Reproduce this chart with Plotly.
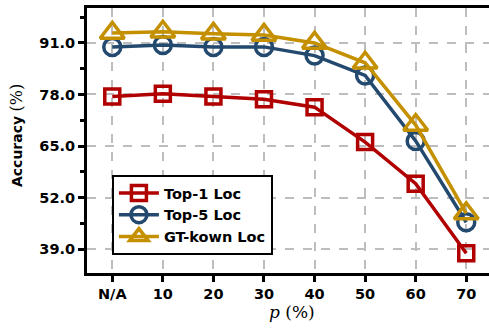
import plotly.graph_objects as go

categories = ["N/A", "10", "20", "30", "40", "50", "60", "70"]
top1 = [77.5, 78.2, 77.5, 76.8, 74.8, 66.0, 55.5, 38.0]
top5 = [90.0, 90.5, 90.0, 90.0, 87.8, 82.8, 66.3, 45.8]
gtk = [93.5, 93.8, 93.3, 93.0, 91.0, 86.0, 70.3, 48.0]
ytick_vals = [39, 52, 65, 78, 91]
ytick_text = ["39.0", "52.0", "65.0", "78.0", "91.0"]

series = [
    ("Top-1 Loc", top1, "#b00000", "square-open", 15),
    ("Top-5 Loc", top5, "#234a6e", "circle-open", 17),
    ("GT-kown Loc", gtk, "#c49000", "triangle-up-open", 21),
]

SANS = "DejaVu Sans"
SERIF = "DejaVu Serif"

fig = go.Figure()
for name, vals, color, sym, size in series:
    fig.add_trace(go.Scatter(
        x=list(range(len(categories))), y=vals, name=name, mode="lines+markers",
        line=dict(color=color, width=3.5),
        marker=dict(symbol=sym, size=size, color=color, line=dict(width=3.5, color=color)),
    ))

fig.update_layout(
    width=489, height=328,
    margin=dict(l=87, r=0, t=8, b=55),
    plot_bgcolor="white", paper_bgcolor="white",
    font=dict(family=SANS, color="black"),
    showlegend=True,
    legend=dict(
        x=0.062, y=0.37, xanchor="left", yanchor="top",
        bgcolor="white", bordercolor="black", borderwidth=2,
        font=dict(size=14.5, family=SANS, weight="bold"),
        itemwidth=40, tracegroupgap=0,
    ),
    annotations=[
        dict(text="<i>p</i> (%)", x=0.51, y=-0.147, xref="paper", yref="paper",
             showarrow=False, xanchor="center", yanchor="middle",
             font=dict(size=17, family=SERIF)),
        dict(text="<b>Accuracy</b> <span style='font-family:DejaVu Serif;font-size:16px'>(%)</span>",
             x=-0.174, y=0.517, xref="paper", yref="paper", textangle=-90,
             showarrow=False, xanchor="center", yanchor="middle",
             font=dict(size=14, family=SANS)),
    ],
)
fig.update_xaxes(
    range=[-0.5, 7.45], tickmode="array", tickvals=list(range(len(categories))), ticktext=categories,
    showline=True, linecolor="black", linewidth=3, mirror=True,
    ticks="outside", ticklen=6, tickwidth=3, tickcolor="black",
    tickfont=dict(size=14.5, family=SANS, weight="bold"),
    showgrid=True, gridcolor="#bdbdbd", griddash="dash", gridwidth=1.5,
    zeroline=False, automargin=False,
)
fig.update_yaxes(
    range=[33, 99.8], tickmode="array", tickvals=ytick_vals, ticktext=ytick_text,
    showline=True, linecolor="black", linewidth=3, mirror=False,
    ticks="outside", ticklen=6, tickwidth=3, tickcolor="black",
    minor=dict(tickvals=[45.5, 58.5, 71.5, 84.5, 97.5], ticks="outside", ticklen=4, tickwidth=3, tickcolor="black", showgrid=False),
    tickfont=dict(size=14.5, family=SANS, weight="bold"),
    showgrid=True, gridcolor="#bdbdbd", griddash="dash", gridwidth=1.5,
    zeroline=False, automargin=False,
)

fig.write_html("out.html", config={"displayModeBar": False},
               post_script="document.body.style.margin='0';document.body.style.overflow='hidden';document.documentElement.style.overflow='hidden';")
